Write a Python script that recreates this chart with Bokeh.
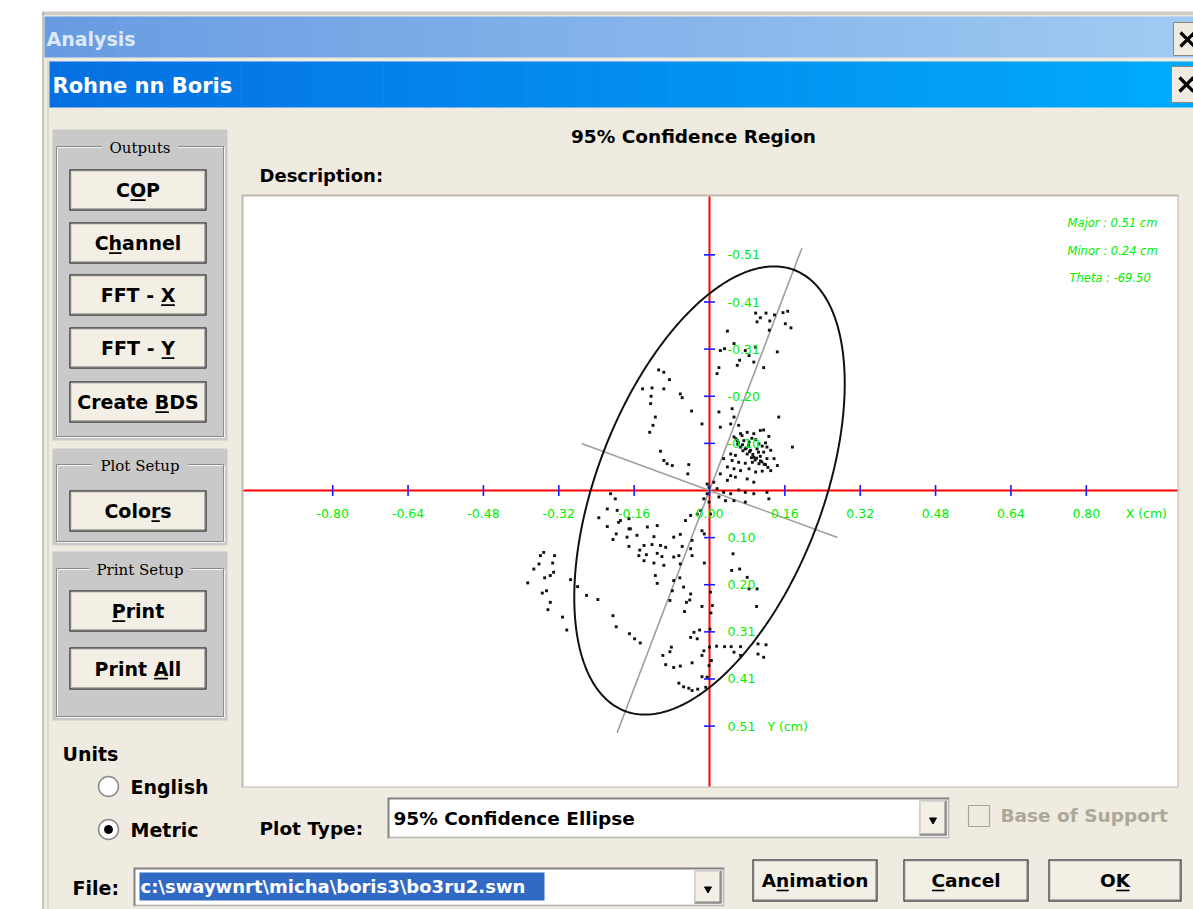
import math
from bokeh.plotting import figure
from bokeh.models import Range1d
from bokeh.core.properties import value
from bokeh.embed import file_html
from bokeh.resources import INLINE

# ---------------- data (cm, Y positive downward as in the original) ----------------
cop_x = [
    0.098, 0.120, 0.138, 0.156, 0.166, 0.101, 0.128, 0.161, 0.173, 0.108,
    0.127, 0.038, 0.052, 0.032, 0.023, 0.076, 0.084, 0.064, 0.094, 0.059,
    0.115, 0.020, 0.016, 0.144, 0.098, -0.108, -0.097, -0.085, -0.142, -0.122,
    -0.097, -0.062, -0.058, -0.124, -0.125, -0.038, -0.115, -0.120, -0.127, -0.104,
    -0.097, -0.090, -0.079, -0.044, -0.046, 0.020, -0.016, 0.048, 0.052, 0.045,
    0.062, 0.023, 0.147, 0.066, 0.080, 0.094, 0.108, 0.115, 0.126, 0.052,
    0.059, 0.073, 0.084, 0.098, 0.105, 0.119, 0.122, 0.066, 0.076, 0.087,
    0.101, 0.115, 0.130, 0.045, 0.055, 0.080, 0.094, 0.108, 0.122, 0.137,
    0.176, 0.030, 0.048, 0.062, 0.076, 0.091, 0.105, 0.119, 0.144, 0.038,
    0.052, 0.066, 0.084, 0.098, 0.112, 0.130, 0.023, 0.045, 0.055, 0.080,
    0.094, 0.038, 0.009, -0.005, -0.001, 0.016, 0.030, 0.045, 0.062, 0.076,
    0.094, 0.122, 0.020, 0.034, 0.052, 0.076, 0.126, -0.005, -0.012, -0.001,
    -0.210, -0.200, -0.217, -0.196, -0.189, -0.171, -0.235, -0.168, -0.132, -0.111,
    -0.040, -0.051, -0.026, -0.019, 0.002, -0.217, -0.193, -0.171, -0.198, -0.205,
    -0.175, -0.154, -0.139, -0.122, -0.118, -0.104, -0.093, -0.076, -0.062, -0.058,
    -0.040, -0.037, -0.016, -0.011, -0.171, -0.148, -0.150, -0.134, -0.111, -0.101,
    -0.076, -0.065, -0.037, -0.139, -0.118, -0.097, -0.062, -0.011, 0.050, 0.064,
    0.047, -0.359, -0.352, -0.329, -0.362, -0.333, -0.373, -0.331, -0.350, -0.338,
    -0.386, -0.355, -0.346, -0.338, -0.343, -0.312, -0.303, -0.295, -0.280, -0.261,
    -0.237, -0.115, -0.111, -0.076, -0.063, -0.079, -0.055, -0.040, -0.084, -0.049,
    -0.042, -0.016, 0.006, -0.053, 0.080, 0.084, 0.101, 0.100, -0.205, -0.198,
    -0.170, -0.159, -0.147, -0.099, -0.081, -0.084, -0.093, -0.076, -0.062, -0.037,
    -0.033, -0.021, -0.040, -0.026, -0.012, 0.000, -0.016, -0.001, 0.004, 0.015,
    0.032, 0.046, 0.066, 0.052, 0.066, 0.103, 0.120, 0.103, 0.115, -0.016,
    -0.005, -0.065, -0.055, -0.044, -0.037, -0.025, -0.008, 0.002, 0.003, 0.001,
    0.056, 0.061, 0.070, 0.078, 0.085, 0.092, 0.100, 0.108, 0.116, 0.124,
    0.060, 0.071, 0.089, 0.097, 0.111, 0.069, 0.083, 0.104, 0.090, 0.112,
]
cop_y = [
    -0.384, -0.384, -0.380, -0.385, -0.388, -0.365, -0.367, -0.361, -0.352, -0.374,
    -0.347, -0.345, -0.318, -0.307, -0.303, -0.303, -0.292, -0.282, -0.278, -0.271,
    -0.266, -0.266, -0.253, -0.300, -0.310, -0.261, -0.256, -0.240, -0.220, -0.222,
    -0.220, -0.209, -0.201, -0.204, -0.188, -0.172, -0.159, -0.141, -0.126, -0.085,
    -0.065, -0.058, -0.054, -0.056, -0.036, -0.170, -0.144, -0.177, -0.159, -0.144,
    -0.141, -0.137, -0.159, -0.123, -0.126, -0.123, -0.130, -0.131, -0.117, -0.116,
    -0.108, -0.108, -0.105, -0.110, -0.101, -0.103, -0.094, -0.094, -0.090, -0.087,
    -0.090, -0.083, -0.087, -0.079, -0.076, -0.079, -0.072, -0.074, -0.069, -0.069,
    -0.094, -0.069, -0.065, -0.061, -0.059, -0.061, -0.058, -0.056, -0.054, -0.051,
    -0.047, -0.043, -0.047, -0.040, -0.042, -0.043, -0.036, -0.032, -0.029, -0.025,
    -0.018, -0.022, -0.018, -0.014, -0.007, -0.004, 0.004, 0.007, -0.001, 0.004,
    0.007, 0.004, 0.014, 0.022, 0.022, 0.025, 0.018, 0.007, 0.018, 0.025,
    0.007, 0.018, 0.040, 0.043, 0.065, 0.061, 0.059, 0.083, 0.079, 0.076,
    0.054, 0.065, 0.051, 0.043, 0.051, 0.078, 0.069, 0.083, 0.094, 0.106,
    0.101, 0.097, 0.119, 0.117, 0.100, 0.119, 0.123, 0.101, 0.095, 0.121,
    0.126, 0.108, 0.087, 0.094, 0.121, 0.129, 0.141, 0.139, 0.136, 0.143,
    0.144, 0.141, 0.141, 0.152, 0.157, 0.162, 0.159, 0.157, 0.137, 0.170,
    0.173, 0.141, 0.134, 0.141, 0.159, 0.157, 0.170, 0.177, 0.189, 0.184,
    0.200, 0.222, 0.217, 0.242, 0.258, 0.274, 0.302, 0.193, 0.208, 0.227,
    0.236, 0.184, 0.201, 0.195, 0.189, 0.217, 0.209, 0.224, 0.238, 0.242,
    0.237, 0.251, 0.249, 0.262, 0.188, 0.213, 0.213, 0.251, 0.271, 0.295,
    0.310, 0.321, 0.330, 0.357, 0.339, 0.349, 0.377, 0.383, 0.380, 0.373,
    0.307, 0.302, 0.318, 0.321, 0.347, 0.339, 0.357, 0.379, 0.368, 0.337,
    0.338, 0.338, 0.338, 0.350, 0.357, 0.332, 0.334, 0.354, 0.361, 0.403,
    0.404, 0.417, 0.425, 0.428, 0.433, 0.430, 0.426, 0.220, 0.265, 0.300,
    -0.112, -0.104, -0.099, -0.092, -0.084, -0.078, -0.070, -0.064, -0.057, -0.050,
    -0.100, -0.086, -0.071, -0.066, -0.062, -0.119, -0.098, -0.083, -0.113, -0.096,
]
x_ticks = [-0.80, -0.64, -0.48, -0.32, -0.16, 0.00, 0.16, 0.32, 0.48, 0.64, 0.80]
x_tick_labels = ["-0.80", "-0.64", "-0.48", "-0.32", "-0.16", "0.00",
                 "0.16", "0.32", "0.48", "0.64", "0.80"]
y_ticks = [-0.51, -0.408, -0.306, -0.204, -0.102, 0.102, 0.204, 0.306, 0.408, 0.51]
y_tick_labels = ["-0.51", "-0.41", "-0.31", "-0.20", "-0.10",
                 "0.10", "0.20", "0.31", "0.41", "0.51"]
ellipse_major_cm = 0.51
ellipse_minor_cm = 0.24
ellipse_theta_deg = -69.50
stats_text = ["Major : 0.51 cm", "Minor : 0.24 cm", "Theta : -69.50"]
plot_title = "95% Confidence Region"
x_axis_label = "X (cm)"
y_axis_label = "Y (cm)"

# ---------------- layout ----------------
W, H = 1193, 909
OX, OY = 709, 490          # pixel position of the origin
SX, SY = 471.0, 462.0      # pixels per cm
BG = "#f0ebe0"
BTN = "#f3efe5"
GROUP = "#c9c9c9"
FONT = "DejaVu Sans"
GREEN = "#00ee00"

p = figure(width=W, height=H, output_backend="svg", toolbar_location=None, tools="",
           x_range=Range1d(-OX / SX, (W - OX) / SX),
           y_range=Range1d((H - OY) / SY, -OY / SY),
           x_axis_location=None, y_axis_location=None,
           min_border=0, min_border_left=0, min_border_right=0,
           min_border_top=0, min_border_bottom=0,
           outline_line_color=None, background_fill_color="white",
           border_fill_color="white")
p.grid.visible = False
p.extra_x_ranges = {"px": Range1d(0, W)}
p.extra_y_ranges = {"px": Range1d(H, 0)}
PX = dict(x_range_name="px", y_range_name="px")

BOLD_W = {' ': 0.348, '-': 0.415, 'A': 0.774, 'B': 0.762, 'C': 0.734, 'D': 0.830,
          'F': 0.683, 'K': 0.775, 'O': 0.850, 'P': 0.733, 'S': 0.720, 'T': 0.682,
          'X': 0.774, 'Y': 0.724, 'a': 0.675, 'c': 0.593, 'e': 0.678, 'h': 0.712,
          'i': 0.343, 'l': 0.343, 'm': 1.042, 'n': 0.712, 'o': 0.687, 'r': 0.493,
          's': 0.595, 't': 0.478}


def box(x0, y0, x1, y1, fill, line=None, lw=1.0):
    p.quad(left=[x0], right=[x1], top=[y0], bottom=[y1], fill_color=fill,
           line_color=line, line_width=lw, **PX)


def seg(x0, y0, x1, y1, color, lw=1.0):
    p.segment(x0=[x0], y0=[y0], x1=[x1], y1=[y1], line_color=color, line_width=lw, **PX)


def label(x, y, s, size=19, color="black", style="bold", align="left", font=FONT):
    p.text(x=[x], y=[y], text=[s], text_font=value(font), text_font_size=f"{size}px",
           text_font_style=style, text_color=color, text_align=align,
           text_baseline="middle", **PX)


def hgrad(x0, x1, y0, y1, c0, c1, n=48):
    lefts, rights, cols = [], [], []
    for i in range(n):
        t = i / (n - 1)
        c = tuple(int(round(a + (b - a) * t)) for a, b in zip(c0, c1))
        lefts.append(x0 + (x1 - x0) * i / n)
        rights.append(x0 + (x1 - x0) * (i + 1) / n + 0.6)
        cols.append("#%02x%02x%02x" % c)
    p.quad(left=lefts, right=rights, top=[y0] * n, bottom=[y1] * n,
           fill_color=cols, line_color=None, **PX)


def button(x0, y0, x1, y1, text, ul, size=19):
    box(x0, y0, x1, y1, "#000000")
    box(x0 + 1, y0 + 1, x1 - 1, y1 - 1, "#ffffff")
    box(x0 + 2, y0 + 2, x1 - 1, y1 - 1, "#6e6e6e")
    box(x0 + 2, y0 + 2, x1 - 2, y1 - 2, BTN)
    cx, cy = (x0 + x1) / 2, (y0 + y1) / 2
    label(cx, cy, text, size=size, align="center")
    total = sum(BOLD_W.get(ch, 0.6) for ch in text) * size
    start = cx - total / 2 + sum(BOLD_W.get(ch, 0.6) for ch in text[:ul]) * size
    wch = BOLD_W.get(text[ul], 0.6) * size
    uy = cy + 0.35 * size + 3.5
    seg(start + 0.5, uy, start + wch - 0.5, uy, "#000000", 1.6)


def dropbtn(x0, y0, x1, y1):
    box(x0, y0, x1, y1, "#404040")
    box(x0, y0, x1 - 1, y1 - 1, "#ffffff")
    box(x0 + 1, y0 + 1, x1 - 1, y1 - 1, "#808080")
    box(x0 + 1, y0 + 1, x1 - 2, y1 - 2, BTN)
    p.scatter(x=[(x0 + x1) / 2], y=[(y0 + y1) / 2 + 2], marker="inverted_triangle",
              size=7, fill_color="black", line_color="black", **PX)


def combo(x0, y0, x1, y1):
    box(x0, y0, x1, y1, "#808080")
    box(x0 + 1, y0 + 1, x1, y1, "#ffffff")
    box(x0 + 1, y0 + 1, x1 - 1, y1 - 1, "#404040")
    box(x0 + 2, y0 + 2, x1 - 1, y1 - 1, "#d4d0c8")
    box(x0 + 2, y0 + 2, x1 - 2, y1 - 2, "#ffffff")
    dropbtn(x1 - 30, y0 + 3, x1 - 3, y1 - 3)


def group(x0, y0, x1, y1, fy, title, tw):
    box(x0, y0, x1, y1, GROUP)
    fx0, fx1, fy1 = x0 + 4, x1 - 4, y1 - 4
    box(fx0 + 1, fy + 1, fx1 + 1, fy1 + 1, None, "#f4f4f4", 1)
    box(fx0, fy, fx1, fy1, None, "#8a8a8a", 1)
    cx = (x0 + x1) / 2
    box(cx - tw / 2 - 4, fy - 3, cx + tw / 2 + 4, fy + 3, GROUP)
    label(cx, fy + 1, title, size=15, style="normal", align="center", font="DejaVu Serif")


# ---------------- window chrome ----------------
box(42, 11, W, 15, "#cfcbc2")
box(42, 15, W, H, BG)
seg(42.5, 11, 42.5, H, "#9d9a90", 1)
hgrad(44, W, 16, 57, (104, 156, 226), (160, 202, 242))
label(46, 38, "Analysis", size=19, color="#dde9f8")
box(1173, 22, W, 55, BG, "#8c8a80", 1)
seg(1180, 32, 1194, 46, "black", 3.2)
seg(1180, 46, 1194, 32, "black", 3.2)

box(44, 58, W, H, BG)
seg(47.5, 60, 47.5, H, "#d6d2c8", 1.5)
hgrad(49, W, 61, 107, (6, 112, 226), (0, 170, 250))
label(52, 85, "Rohne nn Boris", size=21, color="#ffffff")
box(1171, 66, W, 102, BG, "#8c8a80", 1)
seg(1179, 77, 1193, 91, "black", 3.2)
seg(1179, 91, 1193, 77, "black", 3.2)

# left panel
group(52, 129, 227, 440, 146, "Outputs", 68)
button(69, 169, 206, 210, "COP", 1)
button(69, 222, 206, 263, "Channel", 1)
button(69, 274, 206, 315, "FFT - X", 6)
button(69, 327, 206, 368, "FFT - Y", 6)
button(69, 381, 206, 422, "Create BDS", 7)

group(52, 448, 227, 545, 464, "Plot Setup", 88)
button(69, 490, 206, 531, "Colors", 4)

group(52, 551, 227, 720, 568, "Print Setup", 94)
button(69, 590, 206, 631, "Print", 0)
button(69, 647, 206, 689, "Print All", 6)

label(62, 753, "Units", size=19)
p.scatter(x=[108, 108], y=[786, 829], marker="circle", size=20, fill_color="white",
          line_color="#8a8a8a", line_width=1.5, **PX)
p.scatter(x=[108], y=[829], marker="circle", size=8, fill_color="black",
          line_color="black", **PX)
label(130, 786, "English", size=19)
label(130, 829, "Metric", size=19)

label(72, 887, "File:", size=19)
combo(133, 867, 724, 906)
box(139, 872, 544, 900, "#316ac5")
label(140, 886, "c:\\swaywnrt\\micha\\boris3\\bo3ru2.swn", size=18, color="#ffffff")

# header texts
label(693, 136, plot_title, size=18.5, align="center")
label(259, 175, "Description:", size=18)

# bottom controls
label(259, 828, "Plot Type:", size=18.5)
combo(387, 797, 949, 838)
label(393, 818, "95% Confidence Ellipse", size=18.5)
box(968, 805, 989, 826, BG, "#a8a69c", 1.2)
label(1000, 815, "Base of Support", size=18.5, color="#aca899")
button(752, 859, 877, 901, "Animation", 1, size=18.5)
button(903, 859, 1028, 901, "Cancel", 0, size=18.5)
button(1048, 859, 1181, 901, "OK", 1, size=18.5)

# ---------------- plot area ----------------
PL, PT, PR, PB = 243, 196, 1177, 786
box(PL - 2, PT - 2, PR + 1, PB + 1, "#bcb8ae")
box(PL, PT, PR, PB, "#ffffff")

# axes through the origin
p.segment(x0=[0], x1=[0], y0=[PT], y1=[PB], y_range_name="px",
          line_color="#ff0000", line_width=2)
p.segment(x0=[PL], x1=[PR], y0=[0], y1=[0], x_range_name="px",
          line_color="#ff0000", line_width=2)

# ellipse and its axes
th = math.radians(ellipse_theta_deg)
ts = [2 * math.pi * i / 360 for i in range(361)]
ex = [ellipse_major_cm * math.cos(t) * math.cos(th) - ellipse_minor_cm * math.sin(t) * math.sin(th) for t in ts]
ey = [ellipse_major_cm * math.cos(t) * math.sin(th) + ellipse_minor_cm * math.sin(t) * math.cos(th) for t in ts]
ext = 0.05
ma = ellipse_major_cm + ext
mi = ellipse_minor_cm + ext
p.segment(x0=[-ma * math.cos(th), -mi * -math.sin(th)],
          y0=[-ma * math.sin(th), -mi * math.cos(th)],
          x1=[ma * math.cos(th), mi * -math.sin(th)],
          y1=[ma * math.sin(th), mi * math.cos(th)],
          line_color="#9e9e9e", line_width=1.6)

# COP samples
p.scatter(x=cop_x, y=cop_y, marker="square", size=2.9, fill_color="#111111",
          line_color=None)

p.line(x=ex, y=ey, line_color="#111111", line_width=2)

# ticks
p.scatter(x=x_ticks, y=[0] * len(x_ticks), marker="dash", angle=math.pi / 2,
          size=11, line_color="#1a1aff", line_width=1.6)
p.scatter(x=[0] * len(y_ticks), y=y_ticks, marker="dash", size=11,
          line_color="#1a1aff", line_width=1.6)

# tick labels
p.text(x=x_ticks, y=[0] * len(x_ticks), text=x_tick_labels, text_font=value(FONT),
       text_font_size="12.5px", text_color=GREEN, text_align="center",
       text_baseline="middle", y_offset=23)
p.text(x=[0] * len(y_ticks), y=y_ticks, text=y_tick_labels, text_font=value(FONT),
       text_font_size="12.5px", text_color=GREEN, text_align="left",
       text_baseline="middle", x_offset=18)
p.text(x=[x_ticks[-1]], y=[0], text=[x_axis_label], text_font=value(FONT),
       text_font_size="12.5px", text_color=GREEN, text_align="center",
       text_baseline="middle", x_offset=60, y_offset=23)
p.text(x=[0], y=[y_ticks[-1]], text=[y_axis_label], text_font=value(FONT),
       text_font_size="12.5px", text_color=GREEN, text_align="left",
       text_baseline="middle", x_offset=58)

# statistics
p.text(x=[1067, 1067, 1069], y=[222, 250, 277], text=stats_text, text_font=value(FONT),
       text_font_size="11.5px", text_font_style="italic", text_color=GREEN,
       text_align="left", text_baseline="middle", **PX)

open("out.html", "w").write(file_html(p, INLINE))
